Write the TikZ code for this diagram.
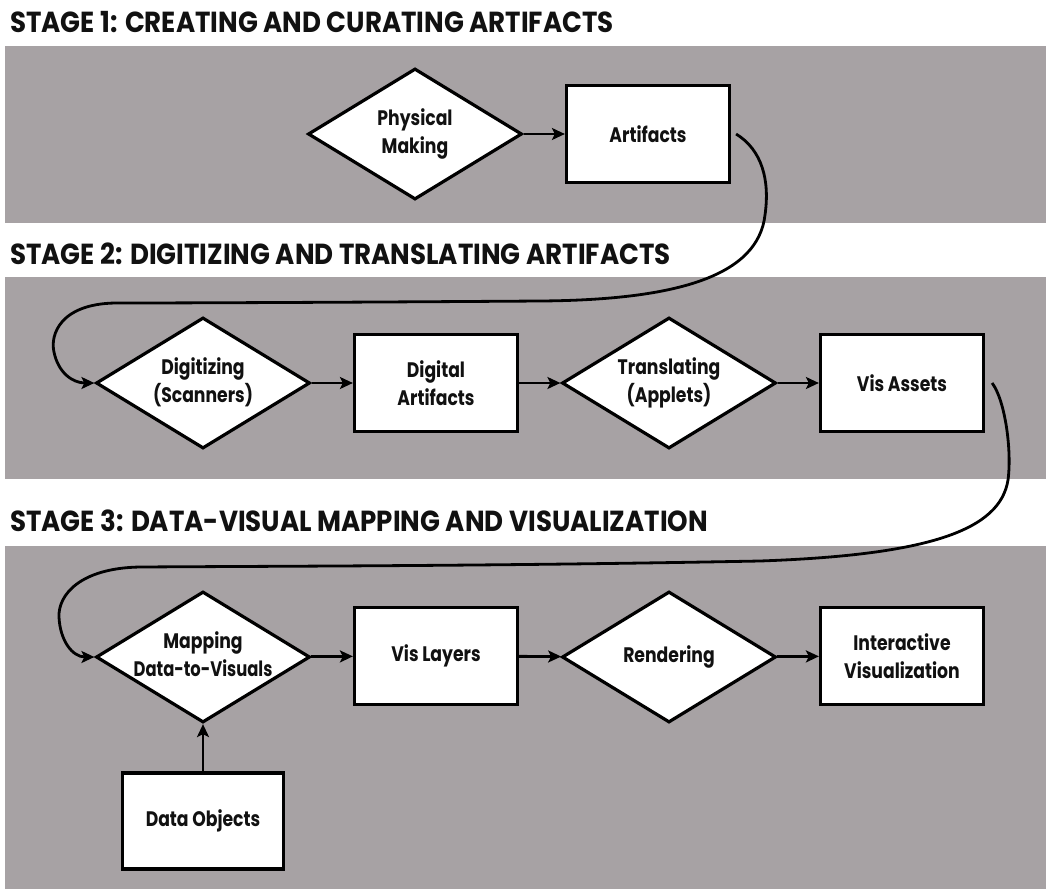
\documentclass[tikz,border=0pt]{standalone}
\usepackage{fontspec}
\setmainfont{Poppins}[FakeStretch=0.82]
\newfontfamily\titlefont{Poppins}[FakeStretch=0.9]
\newfontfamily\nodefont{Poppins}[FakeStretch=0.82]
\usetikzlibrary{shapes.geometric,arrows.meta}
\definecolor{band}{RGB}{167,162,164}
\definecolor{ink}{RGB}{17,17,17}
\newcommand\dtext[1]{\makebox[0pt][c]{\begin{tabular}{@{}c@{}}#1\end{tabular}}}
\begin{document}
\begin{tikzpicture}[x=1pt,y=-1pt,
  dia/.style={diamond, draw=black, line width=3.2pt, fill=white, minimum width=214pt, minimum height=131pt, inner sep=0pt, align=center, text=ink, font=\nodefont\fontsize{21}{28}\selectfont\bfseries},
  box/.style={rectangle, draw=black, line width=3.2pt, fill=white, minimum width=163pt, minimum height=97pt, inner sep=0pt, align=center, text=ink, font=\nodefont\fontsize{21}{28}\selectfont\bfseries},
  conn/.style={line width=2.8pt, -{Stealth[length=13pt,width=12pt,inset=3pt]}},
  title/.style={anchor=west, inner sep=0pt, text=ink, font=\titlefont\fontsize{29}{32}\selectfont\bfseries}]
\useasboundingbox (0,0) rectangle (1052,894);
\fill[white] (0,0) rectangle (1052,894);
\fill[band] (5,46) rectangle (1046,223);
\fill[band] (5,277) rectangle (1046,479);
\fill[band] (5,546) rectangle (1046,889);

\node[title] (t1) at (10,22.5) {STAGE 1: CREATING AND CURATING ARTIFACTS};
\node[title] (t2) at (10,254) {STAGE 2: DIGITIZING AND TRANSLATING ARTIFACTS};
\node[title] (t3) at (10,521) {STAGE 3: DATA-VISUAL MAPPING AND VISUALIZATION};

% stage 1
\node[dia] (pm) at (415,134) {\dtext{Physical\\Making}};
\node[box] (art) at (648,134) {Artifacts};
% stage 2
\node[dia] (dig) at (203,383) {\raisebox{2pt}{\dtext{Digitizing\\(Scanners)}}};
\node[box] (da) at (436,383) {Digital\\Artifacts};
\node[dia] (tr) at (669,383) {\raisebox{2pt}{\dtext{Translating\\(Applets)}}};
\node[box] (va) at (902,383) {Vis Assets};
% stage 3
\node[dia] (map) at (203,657) {\raisebox{8pt}{\dtext{Mapping\\\scalebox{0.95}[1]{Data-to-Visuals}}}};
\node[box] (vl) at (436,656) {Vis Layers};
\node[dia] (ren) at (669,657) {\dtext{Rendering}};
\node[box] (iv) at (902,656) {Interactive\\Visualization};
\node[box, minimum width=161pt, minimum height=96pt] (dobj) at (203,821) {Data Objects};

\draw[conn] (pm) -- (art);
\draw[conn] (dig) -- (da);
\draw[conn] (da) -- (tr);
\draw[conn] (tr) -- (va);
\draw[conn] (map) -- (vl);
\draw[conn] (vl) -- (ren);
\draw[conn] (ren) -- (iv);
\draw[conn] (dobj) -- (map);

\draw[conn] ([xshift=5pt]art.east) .. controls (762,150) and (770,180) .. (765,215)
  .. controls (758,275) and (680,300) .. (540,301)
  .. controls (400,302) and (200,303) .. (115,303)
  .. controls (60,304) and (50,335) .. (54,352)
  .. controls (58,372) and (72,383) .. (dig.west);
\draw[conn] ([xshift=7pt]va.east) .. controls (1005,400) and (1012,450) .. (1008,480)
  .. controls (1000,530) and (930,555) .. (760,561)
  .. controls (500,566) and (300,566) .. (140,567)
  .. controls (80,568) and (58,595) .. (59,617)
  .. controls (60,640) and (72,657) .. (map.west);
\end{tikzpicture}
\end{document}
